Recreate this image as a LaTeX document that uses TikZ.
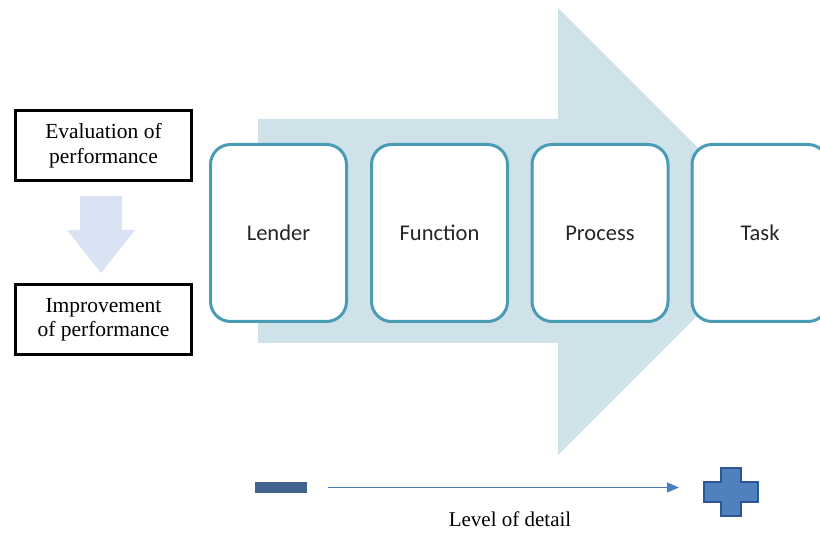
\documentclass[tikz,border=0pt]{standalone}
\usepackage{fontspec}
\setmainfont{Liberation Serif}
\newfontfamily\boxfont{Carlito}
\usetikzlibrary{arrows.meta}
\definecolor{bigarrowcol}{HTML}{CFE2EA}
\definecolor{stageborder}{HTML}{4A9CB5}
\definecolor{downarrowcol}{HTML}{DAE3F3}
\definecolor{minuscol}{HTML}{41648F}
\definecolor{lineblue}{HTML}{4A7EC0}
\definecolor{plusfill}{HTML}{4F81BD}
\definecolor{plusborder}{HTML}{2F5597}
\begin{document}
\begin{tikzpicture}[x=1pt,y=-1pt,
  stagebox/.style={draw=stageborder, line width=3pt, fill=white, rounded corners=20pt,
    minimum width=136pt, minimum height=177pt, inner sep=0pt,
    font=\boxfont\fontsize{22.5}{26}\selectfont, text=black!85},
  perfbox/.style={draw=black, line width=3pt, fill=white,
    minimum width=176pt, minimum height=70pt, inner sep=0pt, align=center,
    font=\fontsize{21.5}{24.5}\selectfont},
  minusbar/.style={fill=minuscol, minimum width=52pt, minimum height=11pt, inner sep=0pt},
  detailarrow/.style={draw=lineblue, line width=1.2pt, -{Triangle[length=12pt,width=10pt]}},
  caption/.style={font=\fontsize{21}{24}\selectfont, inner sep=0pt}
]
\useasboundingbox (0,0) rectangle (820,534);
\clip (0,0) rectangle (820,534);
% big background arrow
\fill[bigarrowcol] (258,119) -- (558,119) -- (558,8) -- (781.5,231.5) -- (558,455) -- (558,343) -- (258,343) -- cycle;
% stages
\node[stagebox] (lender)   at (278.5,233) {Lender};
\node[stagebox] (function) at (439.5,233) {Function};
\node[stagebox] (process)  at (600,233)   {Process};
\node[stagebox] (task)     at (760,233)   {Task};
% left boxes
\node[perfbox] (eval) at (103.5,145.5) {Evaluation of\\performance};
\node[perfbox] (impr) at (103.5,320)   {Improvement\\of performance};
% down arrow
\fill[downarrowcol] (80,196) -- (122,196) -- (122,230) -- (135,230) -- (101,273) -- (67,230) -- (80,230) -- cycle;
% level of detail
\node[minusbar] (minus) at (281,487.5) {};
\coordinate (arrowend) at (679,487.5);
\draw[detailarrow, shorten <=21pt] (minus.east) -- (arrowend);
\begin{scope}[shift={(731,492)}]
\draw[fill=plusfill, draw=plusborder, line width=2.5pt]
  (-10,-24) -- (10,-24) -- (10,-10) -- (27,-10) -- (27,10) -- (10,10) -- (10,24)
  -- (-10,24) -- (-10,10) -- (-27,10) -- (-27,-10) -- (-10,-10) -- cycle;
\coordinate (plus) at (0,0);
\end{scope}
\node[caption, anchor=base] (lod) at (510,527) {Level of detail};
\end{tikzpicture}
\end{document}
